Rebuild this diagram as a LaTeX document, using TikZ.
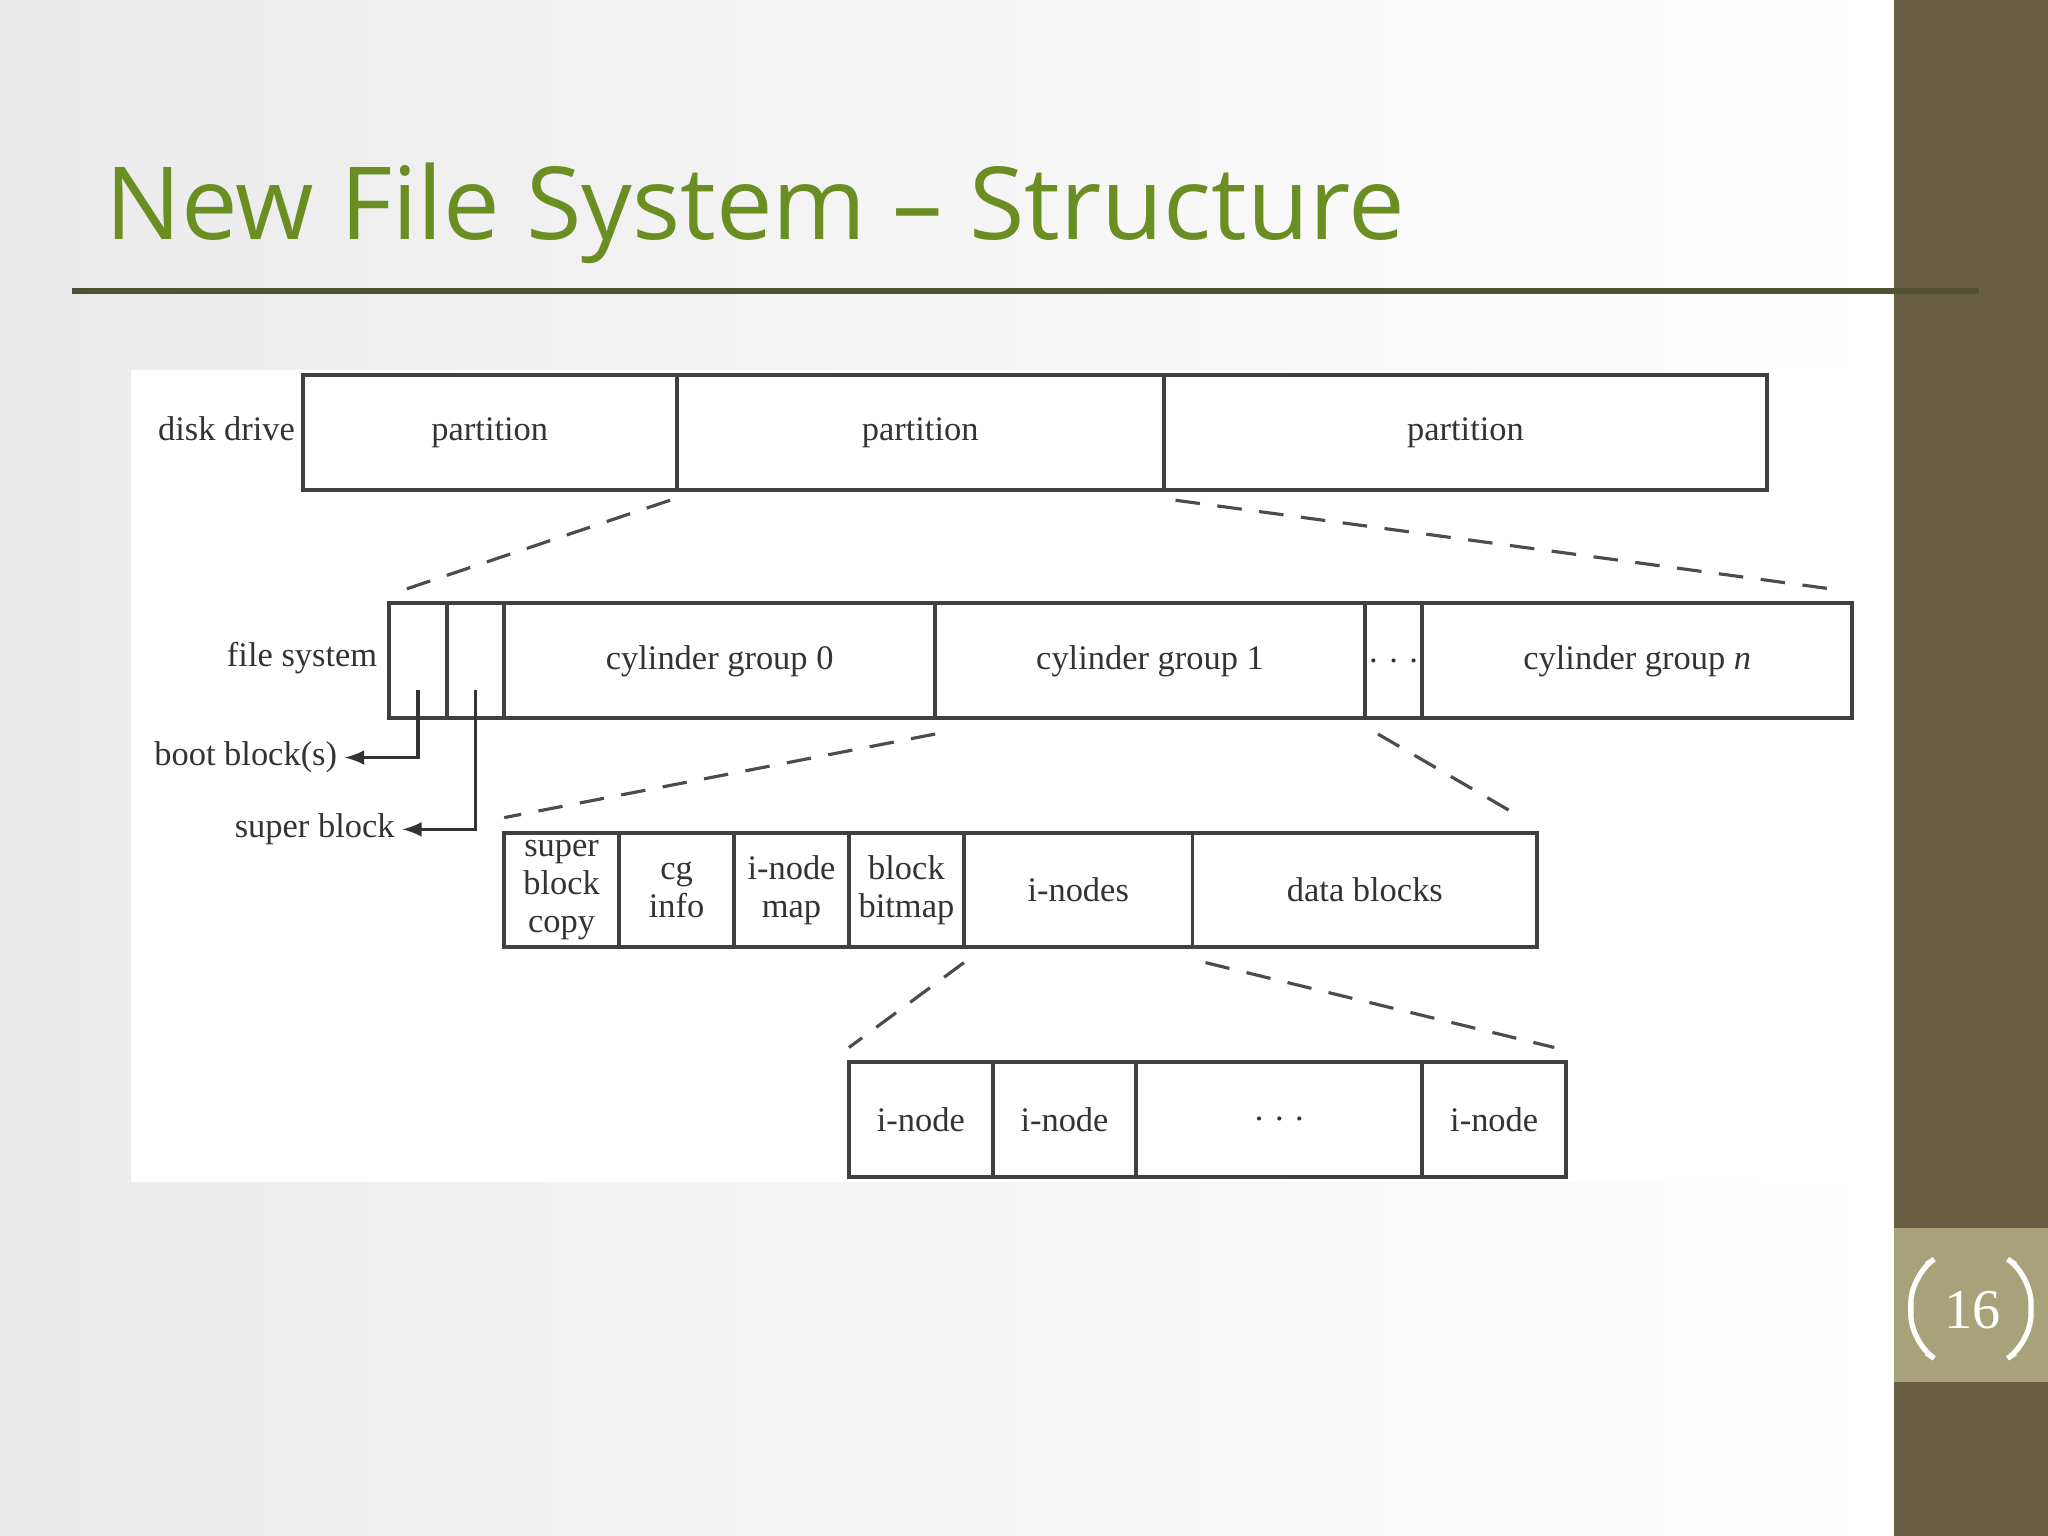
\documentclass[tikz,border=0pt]{standalone}
\usepackage{fontspec}
\setmainfont{Liberation Serif}
\newfontfamily\titlefont{Open Sans}
\newcommand{\cellbox}[6]{\draw[cell] (#2,#3) rectangle (#4,#5); \node[lbl,align=center,inner sep=0pt] (#1) at ({(#2+#4)/2},{(#3+#5)/2}) {#6};}
\begin{document}
\begin{tikzpicture}[x=0.013061cm,y=-0.013061cm,
  cell/.style={draw=black!75,line width=1.1pt},
  dsh/.style={draw=black!70,dash pattern=on 7pt off 5pt,line width=0.9pt},
  lbl/.style={font=\fontsize{9.8}{10.8}\selectfont,text=black!80},
  arr/.style={draw=black!80,line width=0.9pt,-latex}]
\useasboundingbox (0,0) rectangle (1568,1176);
\shade[left color=black!8,right color=white] (0,0) rectangle (1450,1176);
\fill[white] (100,283) rectangle (1423,905);
\fill[fill={rgb,255:red,104;green,94;blue,68}] (1450,0) rectangle (1568,1176);
\fill[fill={rgb,255:red,168;green,162;blue,122}] (1450,940) rectangle (1568,1058);
\draw[white,line width=1.5pt,rounded corners=8pt] (1475,968) -- (1463,976) -- (1463,1028) -- (1475,1036);
\draw[white,line width=1.5pt,rounded corners=8pt] (1543,968) -- (1555,976) -- (1555,1028) -- (1543,1036);
\node[text=white,font=\fontsize{16}{18}\selectfont] (pg) at (1510,1003) {16};
\node[anchor=base west,inner sep=0,text={rgb,255:red,107;green,142;blue,35},font=\titlefont\fontsize{28.7}{32}\selectfont] (title) at (80,183) {New File System – Structure};
\draw[line width=1.8pt,draw={rgb,255:red,80;green,80;blue,55}] (55,223) -- (1515,223);
% row 1
\cellbox{p1}{232}{287}{518}{375}{partition}
\cellbox{p2}{518}{287}{891}{375}{partition}
\cellbox{p3}{891}{287}{1353}{375}{partition}
\node[lbl,anchor=east,inner sep=1pt] (dd) at (229,328) {disk drive};
\draw[dsh] (513,383) -- (308,452);
\draw[dsh] (900,383) -- (1410,452);
% row 2
\cellbox{bb}{298}{462}{342}{550}{}
\cellbox{sb}{342}{462}{386}{550}{}
\cellbox{cg0}{386}{462}{716}{550}{cylinder group 0}
\cellbox{cg1}{716}{462}{1045}{550}{cylinder group 1}
\cellbox{dots}{1045}{462}{1089}{550}{. . .}
\cellbox{cgn}{1089}{462}{1418}{550}{cylinder group \textit{n}}
\node[lbl,anchor=east,inner sep=1pt] (fs) at (292,504) {file system};
\coordinate (bbt) at (320,528);
\coordinate (sbt) at (364,528);
\node[lbl,anchor=east,inner sep=2pt] (bbl) at (264,580) {boot block(s)};
\node[lbl,anchor=east,inner sep=2pt] (sbl) at (308,635) {super block};
\draw[arr] (bbt) |- (bbl.east);
\draw[arr] (sbt) |- (sbl.east);
\draw[dsh] (716,562) -- (386,626);
\draw[dsh] (1055,562) -- (1165,626);
% row 3
\cellbox{sbc}{386}{638}{474}{725}{super\\block\\copy}
\cellbox{cgi}{474}{638}{562}{725}{cg\\info}
\cellbox{imap}{562}{638}{650}{725}{i-node\\map}
\cellbox{bbm}{650}{638}{738}{725}{block\\bitmap}
\cellbox{ins}{738}{638}{913}{725}{i-nodes}
\cellbox{db}{913}{638}{1177}{725}{data blocks}
\draw[dsh] (738,737) -- (650,802);
\draw[dsh] (923,737) -- (1190,802);
% row 4
\cellbox{n1}{650}{813}{760}{901}{i-node}
\cellbox{n2}{760}{813}{870}{901}{i-node}
\cellbox{n3}{870}{813}{1089}{901}{. . .}
\cellbox{n4}{1089}{813}{1199}{901}{i-node}
\end{tikzpicture}
\end{document}
